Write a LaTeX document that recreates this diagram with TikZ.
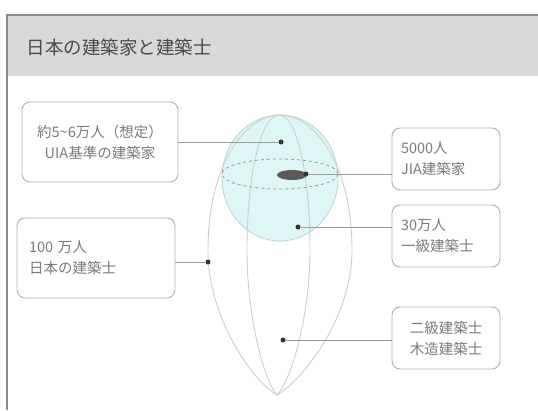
\documentclass[tikz,border=0pt]{standalone}
\usepackage{fontspec}
\setmainfont{Noto Sans CJK JP}
\definecolor{framegray}{HTML}{8C8C8C}
\definecolor{titlebg}{HTML}{D9D9D9}
\definecolor{titletext}{HTML}{4A4A4A}
\definecolor{boxline}{HTML}{B0B0B0}
\definecolor{boxtext}{HTML}{7A7A7A}
\definecolor{conn}{HTML}{9A9A9A}
\definecolor{spherefill}{HTML}{DDF6F6}
\definecolor{sphereline}{HTML}{BBD6D6}
\definecolor{meridian}{HTML}{CFCFCF}
\definecolor{dotc}{HTML}{333333}
\definecolor{core}{HTML}{5A5A5A}
\tikzset{
  infobox/.style={draw=boxline, line width=0.9pt, rounded corners=8pt, text=boxtext,
    font=\fontsize{14.5}{21}\selectfont, inner sep=0pt},
  connector/.style={draw=conn, line width=0.8pt},
  pin/.style={circle, fill=dotc, inner sep=0pt, minimum size=5pt},
}
\begin{document}
\begin{tikzpicture}[x=1pt, y=-1pt]
\useasboundingbox (0,0) rectangle (538,410);
\fill[white] (0,0) rectangle (538,410);
% title bar
\fill[titlebg] (7,15) rectangle (538,76);
\draw[framegray, line width=1.4pt] (538,15) -- (7,15) -- (7,410);
\node[anchor=west, text=titletext, font=\fontsize{18.5}{20}\selectfont] (title) at (23,47) {日本の建築家と建築士};

% sphere
\fill[spherefill] (280,178) ellipse [x radius=58, y radius=63];
\draw[sphereline, line width=0.8pt] (280,178) ellipse [x radius=58, y radius=63];
% outer and inner egg shapes
\draw[meridian, line width=0.9pt]
  (280,115) .. controls (315,115) and (352,165) .. (352,250)
  .. controls (352,320) and (300,382) .. (277,395)
  .. controls (254,382) and (208,320) .. (208,250)
  .. controls (208,165) and (245,115) .. (280,115) -- cycle;
\draw[meridian, line width=0.9pt]
  (279,115) .. controls (296,115) and (310,170) .. (310,250)
  .. controls (310,320) and (290,382) .. (277,395)
  .. controls (265,382) and (247,320) .. (247,250)
  .. controls (247,170) and (262,115) .. (279,115) -- cycle;
% equator
\draw[conn, dashed, line width=0.8pt] (280,174) ellipse [x radius=58, y radius=15];
% core
\fill[core] (292,175) ellipse [x radius=15, y radius=5];

% dots
\node[pin] (p1) at (281,142) {};
\node[pin] (p2) at (306,174) {};
\node[pin] (p3) at (298,227) {};
\node[pin] (p4) at (208,262) {};
\node[pin] (p5) at (283,340) {};

% boxes
\node[infobox, minimum width=156pt, minimum height=80pt, align=center] (b1) at (100,142)
  {約5\textasciitilde 6万人（想定）\\UIA基準の建築家};
\node[infobox, minimum width=108pt, minimum height=62pt, align=left, text width=90pt] (b2) at (446,159)
  {5000人\\JIA建築家};
\node[infobox, minimum width=108pt, minimum height=62pt, align=left, text width=90pt] (b3) at (446,236)
  {30万人\\一級建築士};
\node[infobox, minimum width=158pt, minimum height=80pt, align=left, text width=134pt] (b4) at (96,258)
  {100 万人\\日本の建築士};
\node[infobox, minimum width=108pt, minimum height=62pt, align=center] (b5) at (446,338)
  {二級建築士\\木造建築士};

% connectors
\draw[connector] (b1.east |- p1) -- (p1);
\draw[connector] (p2) -- (b2.west |- p2);
\draw[connector] (p3) -- (b3.west |- p3);
\draw[connector] (b4.east |- p4) -- (p4);
\draw[connector] (p5) -- (b5.west |- p5);
\end{tikzpicture}
\end{document}
